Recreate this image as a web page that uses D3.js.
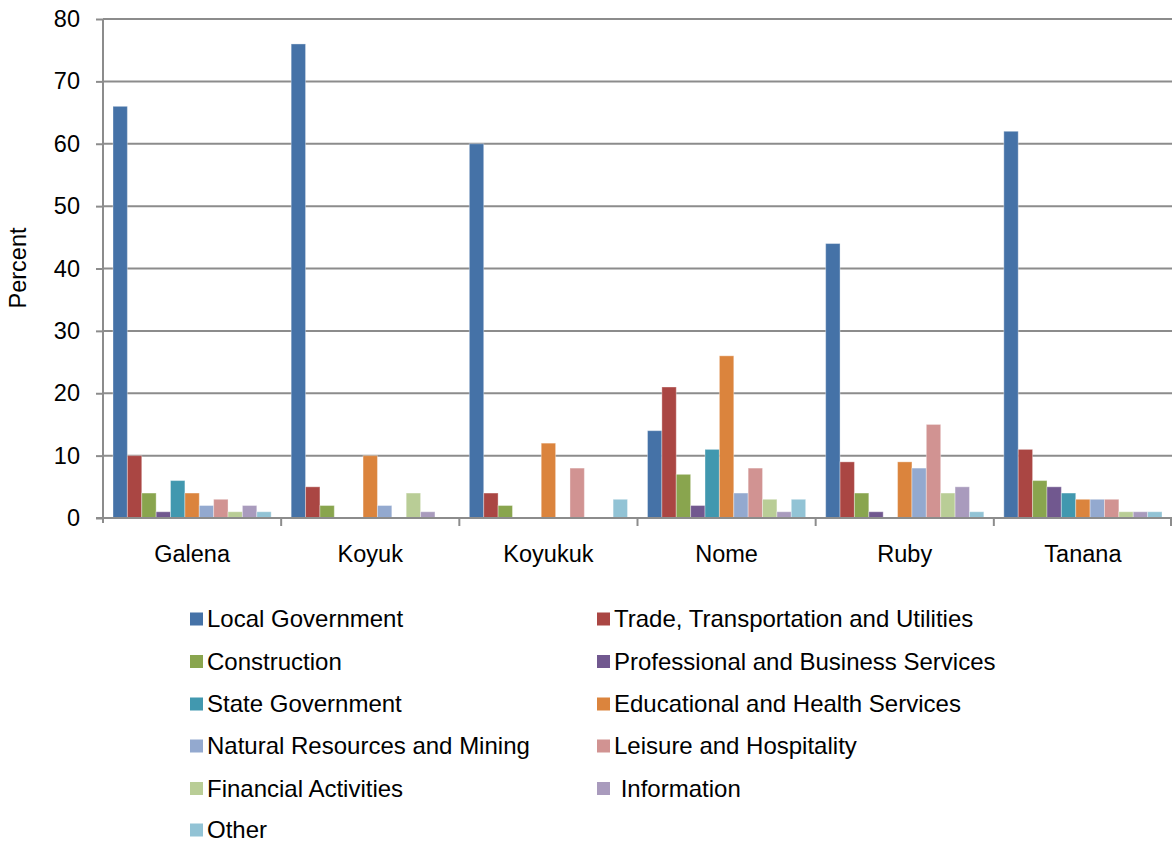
<!DOCTYPE html>
<html>
<head>
<meta charset="utf-8">
<script src="https://cdn.jsdelivr.net/npm/d3@7"></script>
<style>
  html, body { margin: 0; padding: 0; background: #fff; }
  svg { display: block; font-family: "Liberation Sans", Arial, sans-serif; }
</style>
</head>
<body>
<svg id="chart" width="1172" height="842"></svg>
<script>
// Communities along the x axis
const places = ["Galena", "Koyuk", "Koyukuk", "Nome", "Ruby", "Tanana"];

// Industry sectors (one bar per sector in each community)
const sectors = [
  "Local Government",
  "Trade, Transportation and Utilities",
  "Construction",
  "Professional and Business Services",
  "State Government",
  "Educational and Health Services",
  "Natural Resources and Mining",
  "Leisure and Hospitality",
  "Financial Activities",
  " Information",
  "Other"
];

const sectorColors = [
  "#4572A7", "#AA4643", "#89A54E", "#71588F", "#4198AF", "#DB843D",
  "#93A9CF", "#D19392", "#B9CD96", "#A99BBD", "#92C3D5"
];

// Percent of employment by sector, in the order of `places`
const localGovernment   = [66, 76, 60, 14, 44, 62];
const tradeTransport    = [10,  5,  4, 21,  9, 11];
const construction      = [ 4,  2,  2,  7,  4,  6];
const professional      = [ 1,  0,  0,  2,  1,  5];
const stateGovernment   = [ 6,  0,  0, 11,  0,  4];
const educationHealth   = [ 4, 10, 12, 26,  9,  3];
const naturalResources  = [ 2,  2,  0,  4,  8,  3];
const leisure           = [ 3,  0,  8,  8, 15,  3];
const financial         = [ 1,  4,  0,  3,  4,  1];
const information       = [ 2,  1,  0,  1,  5,  1];
const other             = [ 1,  0,  3,  3,  1,  1];

const seriesValues = [
  localGovernment, tradeTransport, construction, professional, stateGovernment,
  educationHealth, naturalResources, leisure, financial, information, other
];

const yTicks = [0, 10, 20, 30, 40, 50, 60, 70, 80];

const svg = d3.select("#chart");
const plot = { left: 103, right: 1172, top: 19, bottom: 518 };
const gridColor = "#8c8c8c";
const fontFamily = "Liberation Sans, Arial, sans-serif";

const x0 = d3.scaleBand().domain(places).range([plot.left, plot.right]).padding(0);
const x1 = d3.scaleBand().domain(d3.range(sectors.length))
  .range([10, x0.bandwidth() - 10]).padding(0);
const y = d3.scaleLinear().domain([0, 80]).range([plot.bottom, plot.top]);

// Horizontal grid lines
svg.append("g")
  .selectAll("line")
  .data(yTicks.filter(d => d > 0))
  .join("line")
  .attr("x1", plot.left).attr("x2", plot.right)
  .attr("y1", d => y(d)).attr("y2", d => y(d))
  .attr("stroke", gridColor).attr("stroke-width", 2);

// Bars
const groups = svg.append("g")
  .selectAll("g")
  .data(places)
  .join("g")
  .attr("transform", d => `translate(${x0(d)},0)`);

groups.selectAll("rect")
  .data((p, pi) => seriesValues.map((vals, si) => ({ si, v: vals[pi] })).filter(d => d.v > 0))
  .join("rect")
  .attr("x", d => x1(d.si))
  .attr("width", x1.bandwidth())
  .attr("y", d => y(d.v))
  .attr("height", d => y(0) - y(d.v))
  .attr("fill", d => sectorColors[d.si])
  .attr("stroke", "#ffffff")
  .attr("stroke-opacity", 0.35)
  .attr("stroke-width", 1);

// Y axis
const yAxis = d3.axisLeft(y).tickValues(yTicks).tickSize(7).tickPadding(16);
const gy = svg.append("g").attr("transform", `translate(${plot.left},0)`).call(yAxis);
gy.select(".domain").attr("stroke", gridColor).attr("stroke-width", 2)
  .attr("d", `M0,${plot.top}V${plot.bottom + 5}`);
gy.selectAll(".tick line").attr("stroke", gridColor).attr("stroke-width", 2);
gy.selectAll(".tick text").attr("font-size", 23.5).attr("fill", "#000")
  .attr("font-family", fontFamily);

// X axis with ticks at the group boundaries
const xAxis = d3.axisBottom(x0).tickSize(0).tickPadding(27);
const gx = svg.append("g").attr("transform", `translate(0,${plot.bottom})`).call(xAxis);
gx.select(".domain").attr("stroke", gridColor).attr("stroke-width", 2)
  .attr("d", `M${plot.left - 7},0H${plot.right}`);
gx.selectAll(".tick text").attr("font-size", 23.5).attr("fill", "#000")
  .attr("font-family", fontFamily);
gx.append("g")
  .selectAll("line")
  .data(places.slice(1).map(p => x0(p)).concat([plot.right - 1]))
  .join("line")
  .attr("x1", d => d).attr("x2", d => d)
  .attr("y1", 0).attr("y2", 8)
  .attr("stroke", gridColor).attr("stroke-width", 2);

// Y axis title
svg.append("text")
  .attr("transform", "translate(26,268) rotate(-90)")
  .attr("text-anchor", "middle")
  .attr("font-size", 23.5)
  .text("Percent");

// Legend, two columns
const legendRowY = [619, 661.5, 704, 746, 788.5, 830];
const legendColX = [190, 597];
const legend = svg.append("g")
  .selectAll("g")
  .data(sectors)
  .join("g")
  .attr("transform", (d, i) => `translate(${legendColX[i % 2]},${legendRowY[Math.floor(i / 2)]})`);
legend.append("rect")
  .attr("x", 0).attr("y", -6.5)
  .attr("width", 13).attr("height", 13)
  .attr("fill", (d, i) => sectorColors[i]);
legend.append("text")
  .attr("x", 17).attr("y", 0)
  .attr("dy", "0.35em")
  .attr("font-size", 24)
  .attr("xml:space", "preserve")
  .style("white-space", "pre")
  .text(d => d);
</script>
</body>
</html>
